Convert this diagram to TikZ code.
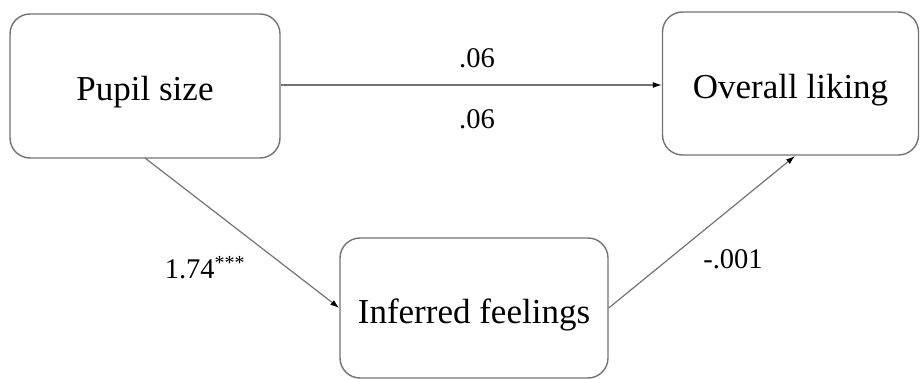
\documentclass[tikz,border=0pt]{standalone}
\usepackage{fontspec}
\setmainfont{Liberation Serif}
\usetikzlibrary{arrows.meta}
\begin{document}
\begin{tikzpicture}[x=1pt,y=-1pt,
  box/.style={draw=black!55,line width=1.4pt,rounded corners=20pt,fill=white,
    font=\fontsize{35}{38}\selectfont,inner sep=0pt,text height=30pt,text depth=0pt},
  conn/.style={draw=black!55,line width=1.2pt,-{Latex[length=9pt,width=6pt,black]}},
  lbl/.style={font=\fontsize{28.5}{31}\selectfont,inner sep=0pt}]
\useasboundingbox (0,0) rectangle (920,379);
\node[box,minimum width=270pt,minimum height=144pt] (pupil) at (145,86) {Pupil size};
\node[box,minimum width=256pt,minimum height=143pt] (liking) at (790.5,83.5) {Overall liking};
\node[box,minimum width=268pt,minimum height=140pt] (inferred) at (474,308) {Inferred feelings};
\draw[conn] (pupil.east |- 0,85) -- (liking.west |- 0,85);
\draw[conn] (145,158) -- (inferred.west);
\draw[conn] (inferred.east) -- (795,156);
\node[lbl] (a1) at (477,58) {.06};
\node[lbl] (a2) at (477,119) {.06};
\node[lbl] (b) at (205,268) {1.74\textsuperscript{***}};
\node[lbl] (c) at (733,259) {-.001};
\end{tikzpicture}
\end{document}
